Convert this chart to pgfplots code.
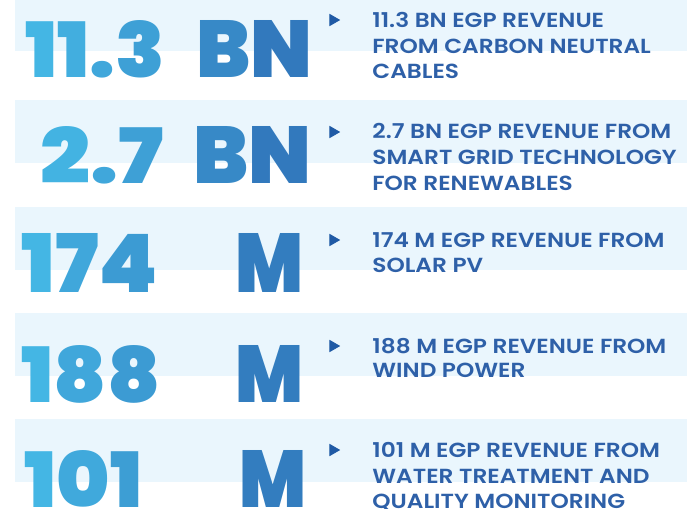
\documentclass[border=0pt]{standalone}
\usepackage{pgfplots}
\pgfplotsset{compat=1.18}
\usepackage{fontspec}
\setmainfont{Poppins}
\IfFontExistsTF{Poppins Black}{\newfontfamily\bigfont{Poppins Black}}{%
  \IfFontExistsTF{Poppins ExtraBold}{\newfontfamily\bigfont{Poppins ExtraBold}}{\def\bigfont{\bfseries}}}
\IfFontExistsTF{Poppins SemiBold}{\newfontfamily\medfont{Poppins SemiBold}[FakeStretch=1.14]}{%
  \IfFontExistsTF{Poppins Medium}{\newfontfamily\medfont{Poppins Medium}[FakeStretch=1.14]}{\def\medfont{\rmfamily}}}
\definecolor{lt}{HTML}{45B9E6}
\definecolor{dk}{HTML}{3072B8}
\definecolor{band}{HTML}{EAF6FD}
\definecolor{txt}{HTML}{2E60A8}
\definecolor{arrow}{HTML}{1F5AA5}
% glyph coloured along the gradient: #1 = percent of dark blue
\newcommand\g[2]{{\color{dk!#1!lt}#2}}
% big figure: x, top, bottom, width, content (all in px)
\newcommand\bigfig[5]{\node[anchor=north west, inner sep=0pt] at (axis cs:#1,#2)
  {\resizebox{\dimexpr #4pt/2\relax}{\dimexpr (#3pt-#2pt)/2\relax}{\bigfont #5}};}
\newcommand\descline[3]{\node[anchor=base west, inner sep=0pt, txt] at (axis cs:#1,#2)
  {\medfont\fontsize{10.2}{12}\selectfont #3};}

\begin{document}
\begin{tikzpicture}
\path[use as bounding box, clip] (0,0) rectangle (343.5pt,254.5pt);
\begin{axis}[
  at={(0,0)}, anchor=south west,
  scale only axis, width=343.5pt, height=254.5pt,
  xmin=0, xmax=687, ymin=0, ymax=509, y dir=reverse,
  hide axis, clip=false
]
% light bands behind each row
\addplot[fill=band, draw=none] coordinates {(15,-5) (687,-5) (687,51) (15,51)};
\addplot[fill=band, draw=none] coordinates {(15,100) (687,100) (687,163) (15,163)};
\addplot[fill=band, draw=none] coordinates {(15,207) (687,207) (687,270) (15,270)};
\addplot[fill=band, draw=none] coordinates {(15,313) (687,313) (687,376) (15,376)};
\addplot[fill=band, draw=none] coordinates {(15,419) (687,419) (687,482) (15,482)};
% bullets
\addplot[only marks, mark=triangle*, mark size=3.2pt, mark options={rotate=-90, fill=arrow, draw=arrow}, color=arrow]
  coordinates {(333,20) (333,132) (333,240) (333,346) (333,450)};

% big figures
\bigfig{25}{20}{77}{140}{\g{5}{1}\g{15}{1}\g{25}{.}\g{35}{3}}
\bigfig{196}{20}{77}{116}{\g{68}{B}\g{90}{N}}
\bigfig{40}{126}{183}{123}{\g{8}{2}\g{25}{.}\g{35}{7}}
\bigfig{193}{126}{183}{118}{\g{68}{B}\g{90}{N}}
\bigfig{21}{233}{292}{137}{\g{5}{1}\g{25}{7}\g{42}{4}}
\bigfig{235}{233}{292}{68}{\g{85}{M}}
\bigfig{21}{345}{402}{139}{\g{5}{1}\g{25}{8}\g{42}{8}}
\bigfig{235}{345}{402}{68}{\g{85}{M}}
\bigfig{24}{450}{507}{118}{\g{5}{1}\g{22}{0}\g{38}{1}}
\bigfig{239}{450}{507}{67}{\g{85}{M}}

% descriptions
\descline{372}{27}{11.3 BN EGP REVENUE}
\descline{372}{53}{FROM CARBON NEUTRAL}
\descline{372}{78}{CABLES}
\descline{372}{138}{2.7 BN EGP REVENUE FROM}
\descline{372}{164}{SMART GRID TECHNOLOGY}
\descline{372}{190}{FOR RENEWABLES}
\descline{372}{247}{174 M EGP REVENUE FROM}
\descline{372}{272}{SOLAR PV}
\descline{372}{353}{188 M EGP REVENUE FROM}
\descline{372}{377}{WIND POWER}
\descline{372}{457}{101 M EGP REVENUE FROM}
\descline{372}{483}{WATER TREATMENT AND}
\descline{372}{508}{QUALITY MONITORING}
\end{axis}
\end{tikzpicture}
\end{document}
